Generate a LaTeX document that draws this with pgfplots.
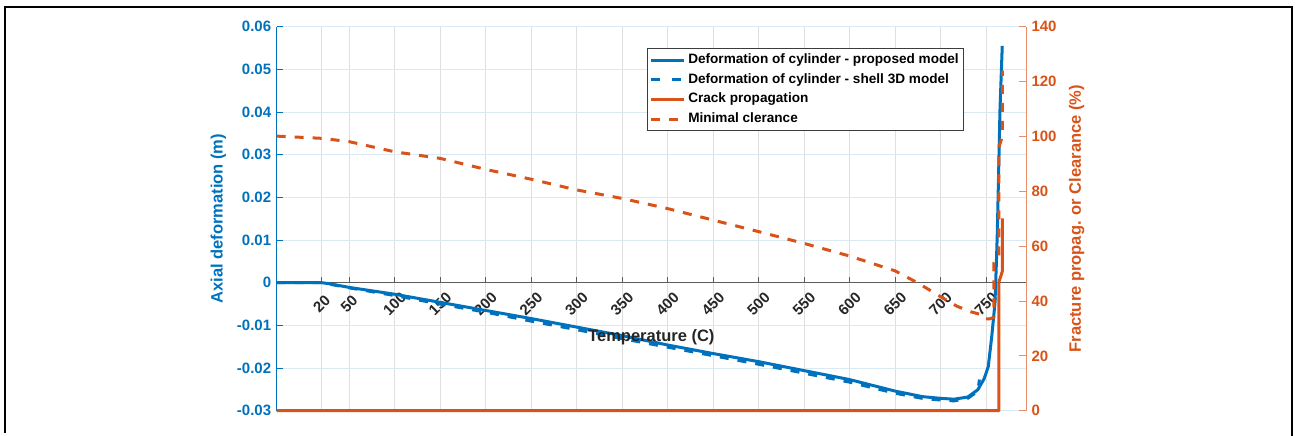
\documentclass[border=0pt]{standalone}
\usepackage{pgfplots}
\pgfplotsset{compat=1.18}
\usepackage{fontspec}
\setmainfont{Liberation Sans}
\definecolor{mblue}{rgb}{0,0.447,0.741}
\definecolor{morange}{rgb}{0.85,0.325,0.098}
\definecolor{axgray}{rgb}{0.15,0.15,0.15}
\definecolor{xgrid}{rgb}{0.875,0.875,0.875}
\definecolor{ygrid}{rgb}{0.85,0.917,0.961}
\newcommand{\tickfont}{\bfseries\fontsize{15}{17}\selectfont}
\newcommand{\labfont}{\bfseries\fontsize{16.5}{18}\selectfont}
\newcommand{\legfont}{\bfseries\fontsize{13.6}{15}\selectfont}
\begin{document}
\begin{tikzpicture}
\useasboundingbox (0,0) rectangle (1302pt,436pt);
\draw[line width=2.3pt, black] (4.7pt,3pt) -- (4.7pt,428.7pt) -- (1291.7pt,428.7pt) -- (1291.7pt,0pt);
\begin{axis}[
  at={(276.7pt,25.3pt)}, anchor=south west,
  scale only axis, width=749.3pt, height=384pt,
  xmin=-29.5, xmax=794, ymin=-0.03, ymax=0.06,
  scaled y ticks=false, scaled x ticks=false,
  axis x line*=middle, axis y line*=left,
  x axis line style={-, draw=axgray!75, line width=0.7pt},
  y axis line style={-, draw=mblue, line width=0.9pt},
  xtick={20,50,100,150,200,250,300,350,400,450,500,550,600,650,700,750},
  xticklabels={20,50,100,150,200,250,300,350,400,450,500,550,600,650,700,750},
  xtick align=inside, ytick align=inside,
  major tick length=6pt,
  x tick style={draw=axgray!75, line width=0.7pt},
  y tick style={draw=mblue, line width=0.9pt},
  x tick label style={font=\tickfont, text=axgray, yshift=-21pt, rotate=45, anchor=center},
  y tick label style={font=\tickfont, text=mblue, xshift=-2pt},
  ytick={-0.03,-0.02,-0.01,0,0.01,0.02,0.03,0.04,0.05,0.06},
  yticklabels={-0.03,-0.02,-0.01,0,0.01,0.02,0.03,0.04,0.05,0.06},
  xmajorgrids, ymajorgrids,
  major x grid style={draw=xgrid, line width=0.7pt},
  major y grid style={draw=ygrid, line width=0.7pt},
  xlabel={Temperature (C)},
  every axis x label/.style={at={(axis description cs:0.5,0.192)}, anchor=center, font=\labfont, text=axgray},
  ylabel={Axial deformation (m)},
  every axis y label/.style={at={(axis description cs:-0.078,0.5)}, rotate=90, anchor=center, font=\labfont, text=mblue},
]
\addplot[mblue, line width=3pt, dash pattern=on 9pt off 9pt, line join=round] coordinates {
(-29.5,0) (20,0) (50,-0.0012) (100,-0.0030) (150,-0.0050) (200,-0.0069) (250,-0.0090) (300,-0.0110)
(350,-0.0131) (400,-0.0151) (450,-0.0171) (500,-0.0191) (550,-0.0212) (600,-0.0233) (650,-0.0259)
(680,-0.0271) (700,-0.0275) (715,-0.0277) (730,-0.0271) (738,-0.0259) (741.5,-0.0248) (742.8,-0.0227)
};
\addplot[mblue, line width=3pt, line join=round] coordinates {
(-29.5,0) (20,0) (30,-0.0003) (50,-0.0011) (100,-0.0027) (150,-0.0046) (200,-0.0065) (250,-0.0084)
(300,-0.0104) (350,-0.0124) (400,-0.0146) (450,-0.0166) (500,-0.0185) (550,-0.0206) (600,-0.0227)
(650,-0.0254) (680,-0.0267) (700,-0.0271) (715,-0.0273) (730,-0.0268) (741,-0.0251) (748,-0.0225)
(752.5,-0.0197) (756.3,-0.0127) (759.9,-0.0048) (761.5,0.0050) (762.5,0.0120) (765.4,0.0405) (767.9,0.0555)
};
\end{axis}
\begin{axis}[
  at={(276.7pt,25.3pt)}, anchor=south west,
  scale only axis, width=749.3pt, height=384pt,
  xmin=-29.5, xmax=794, ymin=0, ymax=140,
  axis x line=none, axis y line*=right,
  y axis line style={-, draw=morange!65!white, line width=0.9pt},
  ytick={0,20,40,60,80,100,120,140},
  yticklabels={0,20,40,60,80,100,120,140},
  ytick align=inside, major tick length=7pt,
  y tick style={draw=morange!65!white, line width=0.9pt},
  y tick label style={font=\tickfont, text=morange, xshift=2pt},
  ylabel={Fracture propag. or Clearance (\%)},
  every axis y label/.style={at={(axis description cs:1.0677,0.5)}, rotate=90, anchor=center, font=\labfont, text=morange},
  clip=false,
  legend style={at={(axis description cs:0.494,0.9445)}, anchor=north west, font=\legfont,
    draw=axgray!90, line width=0.8pt, fill=white, inner sep=2pt, row sep=0pt,
    nodes={inner xsep=3pt, inner ysep=3.3pt, text height=10pt, text depth=3pt}},
  legend cell align=left,
  legend image code/.code={\draw[#1, line width=3pt] (0pt,0pt) -- (33pt,0pt);},
]
\addlegendimage{mblue, line width=3pt}
\addlegendentry{Deformation of cylinder - proposed model}
\addlegendimage{mblue, line width=3pt, dash pattern=on 9pt off 12pt}
\addlegendentry{Deformation of cylinder - shell 3D model}
\addplot[morange, line width=3pt, line join=round] coordinates {
(-29.5,0) (764.3,0) (764.3,47) (767.9,50.7) (767.9,70.1)
};
\addlegendentry{Crack propagation}
\addplot[morange, line width=3pt, dash pattern=on 9pt off 9pt, line join=round] coordinates {
(-29.5,100.1) (20,99.3) (50,98.1) (100,94.4) (150,92.0) (200,88.0) (250,84.4) (300,80.5)
(350,77.4) (400,73.7) (450,69.5) (500,65.3) (550,61.0) (600,56.4) (650,51.0) (675,46.6)
(700,41.6) (718,38.1) (733,36.1) (745,35.0) (749,33.5) (754,33.5) (758.8,34) (758.8,54)
(764.3,56) (764.3,96) (767.9,100) (767.9,124)
};
\addlegendentry{Minimal clerance}
\end{axis}
\end{tikzpicture}
\end{document}
